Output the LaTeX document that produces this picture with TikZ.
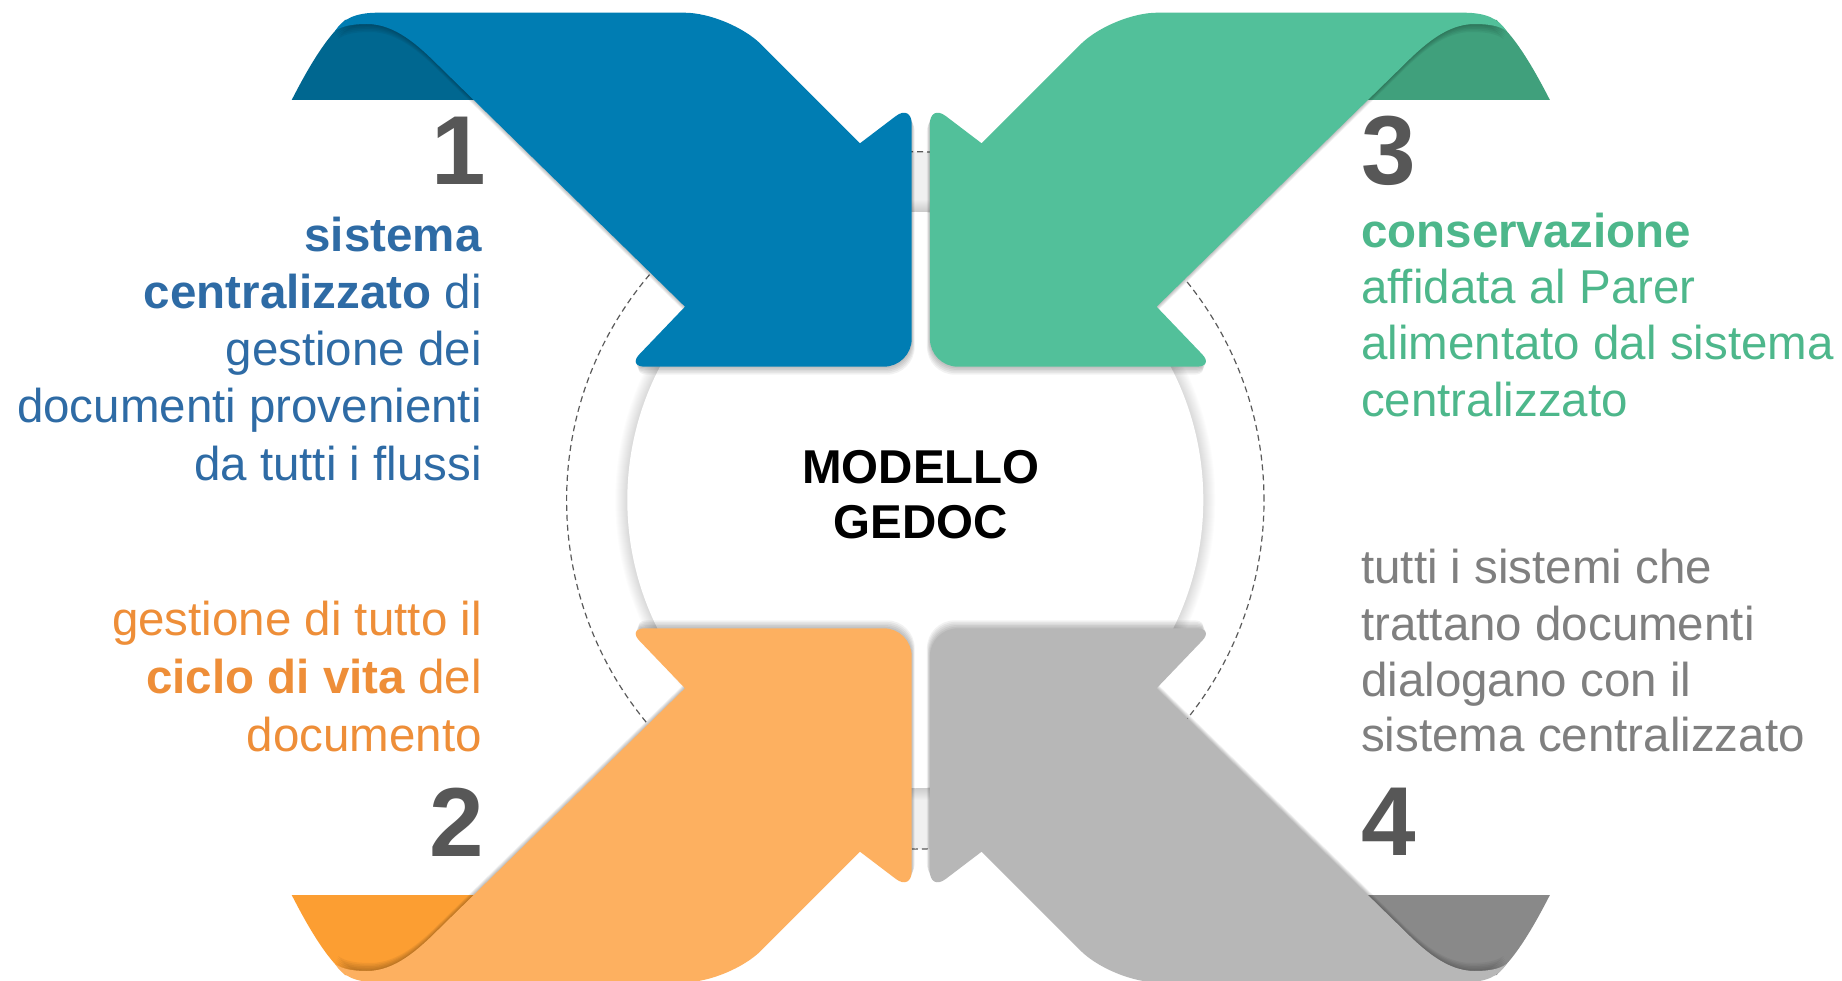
\documentclass[tikz,border=0pt]{standalone}
\usepackage{fontspec}
\setmainfont{Liberation Sans}
\definecolor{bluemain}{RGB}{0,125,179}
\definecolor{bluedark}{RGB}{0,103,144}
\definecolor{bluetext}{RGB}{46,107,165}
\definecolor{greenmain}{RGB}{82,192,154}
\definecolor{greendark}{RGB}{64,160,124}
\definecolor{greentext}{RGB}{77,183,139}
\definecolor{orangemain}{RGB}{253,176,96}
\definecolor{orangedark}{RGB}{252,158,50}
\definecolor{orangetext}{RGB}{238,142,56}
\definecolor{graymain}{RGB}{183,183,183}
\definecolor{graydark}{RGB}{137,137,137}
\definecolor{graytext}{RGB}{127,127,127}
\definecolor{numgray}{RGB}{87,87,87}
\definecolor{dashgray}{RGB}{90,90,90}

\newcommand{\curlP}{(291.7,100) .. controls (302,80) and (318,50) .. (335,31) -- (345,20) -- (440,20) -- (485,100) -- cycle}
\newcommand{\ribbonP}{(335,31) .. controls (343,19) and (355,12.7) .. (378,12.7)
  -- (684.4,12.7) .. controls (709.2,12.7) and (743.7,27) .. (761.2,44.5)
  -- (860,143.3)
  -- (895.8,116.1) .. controls (904.6,109.4) and (911.7,113) .. (911.7,124)
  -- (911.7,338.7) .. controls (911.7,354.2) and (899.2,366.7) .. (883.7,366.7)
  -- (645,366.7) .. controls (635.1,366.7) and (632.7,361) .. (639.7,354)
  -- (685,306.7)
  -- (440,67)
  .. controls (418,45) and (395,24) .. (367,24)
  .. controls (352,24) and (342,26) .. (335,31) -- cycle}
\newcommand{\ribbonshape}[2]{%
  \fill[#2] \curlP;
  \foreach \s in {1,...,5} {\fill[black,opacity=0.05,shift={({0.6*\s},{1.6*\s})}] \ribbonP;}
  \fill[#1] \ribbonP;
}

\tikzset{
  txt/.style={font=\fontsize{47.5}{57}\selectfont, inner sep=0pt},
  num/.style={font=\fontsize{98}{100}\selectfont\bfseries, text=numgray, inner sep=0pt},
  ctr/.style={font=\fontsize{47.5}{55}\selectfont\bfseries, text=black, inner sep=0pt, anchor=base},
  dashring/.style={dashgray, line width=1.2pt, dash pattern=on 6pt off 4pt}
}

\begin{document}
\begin{tikzpicture}[x=1pt,y=-1pt]
\useasboundingbox (0,0) rectangle (1842,981);
\fill[white] (0,0) rectangle (1842,981);

% gap bands between the arrow heads
\begin{scope}
  \clip (900,0) rectangle (942,981);
  \fill[black!6, even odd rule] (915.3,500.4) circle[radius=348.7pt] (915.3,500) circle[radius=288pt];
\end{scope}

% dashed ring
\draw[dashring] (915.3,500.4) circle[radius=348.7pt];

% disc glow and disc
\foreach \k in {1,...,12} {\fill[black,opacity=0.012] (915.3,500) circle[radius={(288+\k)*1pt}];}
\fill[white] (915.3,500) circle[radius=288pt];

% the four arrows
\begin{scope}
  \ribbonshape{bluemain}{bluedark}
\end{scope}
\begin{scope}[shift={(1841.6,0)},xscale=-1]
  \ribbonshape{greenmain}{greendark}
\end{scope}
\begin{scope}[shift={(0,995)},yscale=-1]
  \ribbonshape{orangemain}{orangedark}
\end{scope}
\begin{scope}[shift={(1841.6,995)},scale=-1]
  \ribbonshape{graymain}{graydark}
\end{scope}

% numbers
\node[num,anchor=base east] (n1) at (486,185) {1};
\node[num,anchor=base east] (n2) at (484,856.7) {2};
\node[num,anchor=base west] (n3) at (1361,185) {3};
\node[num,anchor=base west] (n4) at (1361,855) {4};

% centre
\node[ctr] (m1) at (921,483.3) {MODELLO};
\node[ctr] (m2) at (921,538.3) {GEDOC};

% text 1
\begin{scope}[every node/.style={txt,text=bluetext,anchor=base east}]
\node (a1) at (482,251.7) {\textbf{sistema}};
\node (a2) at (482,308.8) {\textbf{centralizzato} di};
\node (a3) at (482,365.9) {gestione dei};
\node (a4) at (482,423) {documenti provenienti};
\node (a5) at (482,480.1) {da tutti i flussi};
\end{scope}

% text 2
\begin{scope}[every node/.style={txt,text=orangetext,anchor=base east}]
\node (b1) at (482,635) {gestione di tutto il};
\node (b2) at (482,693.3) {\textbf{ciclo di vita} del};
\node (b3) at (482,751.7) {documento};
\end{scope}

% text 3
\begin{scope}[every node/.style={txt,text=greentext,anchor=base west}]
\node (c1) at (1361,247.7) {\textbf{conservazione}};
\node (c2) at (1361,303.3) {affidata al Parer};
\node (c3) at (1361,360) {alimentato dal sistema};
\node (c4) at (1361,416.7) {centralizzato};
\end{scope}

% text 4
\begin{scope}[every node/.style={txt,text=graytext,anchor=base west}]
\node (d1) at (1361,583.3) {tutti i sistemi che};
\node (d2) at (1361,640) {trattano documenti};
\node (d3) at (1361,696.7) {dialogano con il};
\node (d4) at (1361,751.7) {sistema centralizzato};
\end{scope}
\end{tikzpicture}
\end{document}
